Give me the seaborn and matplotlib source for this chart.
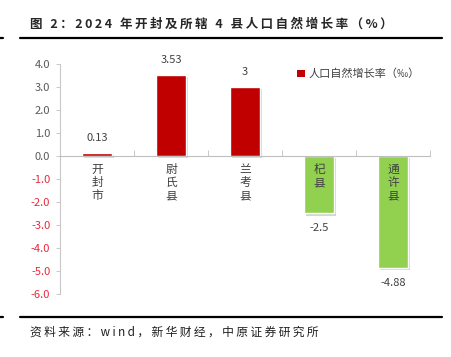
import matplotlib
matplotlib.use('Agg')
import matplotlib.pyplot as plt
import matplotlib.patheffects as pe
from matplotlib.patches import Patch
from matplotlib.lines import Line2D
import seaborn as sns
import pandas as pd

sns.set_style('white')
plt.rcParams['font.family'] = ['Noto Sans CJK SC', 'DejaVu Sans']
plt.rcParams['axes.unicode_minus'] = False

# data
cities = ['开封市', '尉氏县', '兰考县', '杞县', '通许县']
rates = [0.13, 3.53, 3.0, -2.5, -4.88]
rate_labels = ['0.13', '3.53', '3', '-2.5', '-4.88']
bar_colors = ['#C00000', '#C00000', '#C00000', '#92D050', '#92D050']
y_ticks = [4.0, 3.0, 2.0, 1.0, 0.0, -1.0, -2.0, -3.0, -4.0, -5.0, -6.0]

title = '图 2：2024 年开封及所辖 4 县人口自然增长率（%）'
legend_label = '人口自然增长率（‰）'
source = '资料来源：wind，新华财经，中原证券研究所'


def spaced(s):
    # the report fonts are set with extra letter spacing
    return '\u2009'.join(s)


df = pd.DataFrame({'city': cities, 'rate': rates})

fig = plt.figure(figsize=(4.52, 3.57), dpi=100)
ax = fig.add_axes([60 / 452, 63 / 357, 370 / 452, 230 / 357])

sns.barplot(data=df, x='city', y='rate', hue='city', palette=bar_colors,
            width=0.4, legend=False, ax=ax, saturation=1)

for p in ax.patches:
    p.set_path_effects([pe.SimplePatchShadow(offset=(1.5, -1.5), shadow_rgbFace='#888888', alpha=0.35),
                        pe.Normal()])

ax.set_xlim(-0.5, 4.5)
ax.set_ylim(-6.0, 4.0)
ax.set_xlabel('')
ax.set_ylabel('')

# y axis
ax.set_yticks(y_ticks)
ax.set_yticklabels([f'{v:.1f}' for v in y_ticks], fontsize=8)
for lab, v in zip(ax.get_yticklabels(), y_ticks):
    lab.set_color('#E8283C' if v < 0 else '#595959')
ax.tick_params(axis='y', length=3, width=0.6, color='#BFBFBF', pad=4, left=True)

# x axis at zero
for s in ['top', 'right']:
    ax.spines[s].set_visible(False)
ax.spines['left'].set_color('#C8C8C8')
ax.spines['left'].set_linewidth(0.8)
ax.spines['bottom'].set_position(('data', 0))
ax.spines['bottom'].set_color('#BFBFBF')
ax.spines['bottom'].set_linewidth(0.8)
ax.set_xticks(range(len(cities)))
ax.set_xticklabels([])
ax.tick_params(axis='x', which='major', length=0)
ax.set_xticks([i - 0.5 for i in range(len(cities) + 1)], minor=True)
ax.tick_params(axis='x', which='minor', direction='in', length=4, width=0.6, color='#BFBFBF', bottom=True)

# vertical category labels
for i, c in enumerate(cities):
    ax.text(i, -0.3, '\n'.join(c), ha='center', va='top', fontsize=8.5,
            linespacing=1.0, color='#404040')

# value labels
for i, (v, t) in enumerate(zip(rates, rate_labels)):
    ax.annotate(t, (i, v), xytext=(0, 7 if v >= 0 else -7), textcoords='offset points',
                ha='center', va='bottom' if v >= 0 else 'top', fontsize=8, color='#404040')

# legend
ax.legend(handles=[Patch(facecolor='#C00000', edgecolor='none', label=legend_label)],
          loc='center left', bbox_to_anchor=(287 / 452, 1 - 74 / 357),
          bbox_transform=fig.transFigure, frameon=False, fontsize=8,
          handlelength=0.7, handleheight=0.7, handletextpad=0.3, labelcolor='#404040')

# title, rules, source
fig.text(30 / 452, 1 - 24 / 357, spaced(title), fontsize=9, fontweight='bold', va='center', ha='left')
fig.add_artist(Line2D([20 / 452, 442 / 452], [1 - 38 / 357] * 2, color='black', lw=1.6))
fig.add_artist(Line2D([0, 3 / 452], [1 - 38 / 357] * 2, color='black', lw=1.6))
fig.add_artist(Line2D([20 / 452, 442 / 452], [1 - 317 / 357] * 2, color='black', lw=1.6))
fig.add_artist(Line2D([0, 3 / 452], [1 - 317 / 357] * 2, color='black', lw=1.6))
fig.text(30 / 452, 1 - 332 / 357, spaced(source), fontsize=8.5, va='center', ha='left', color='#202020')

fig.savefig('out.png', dpi=100)
